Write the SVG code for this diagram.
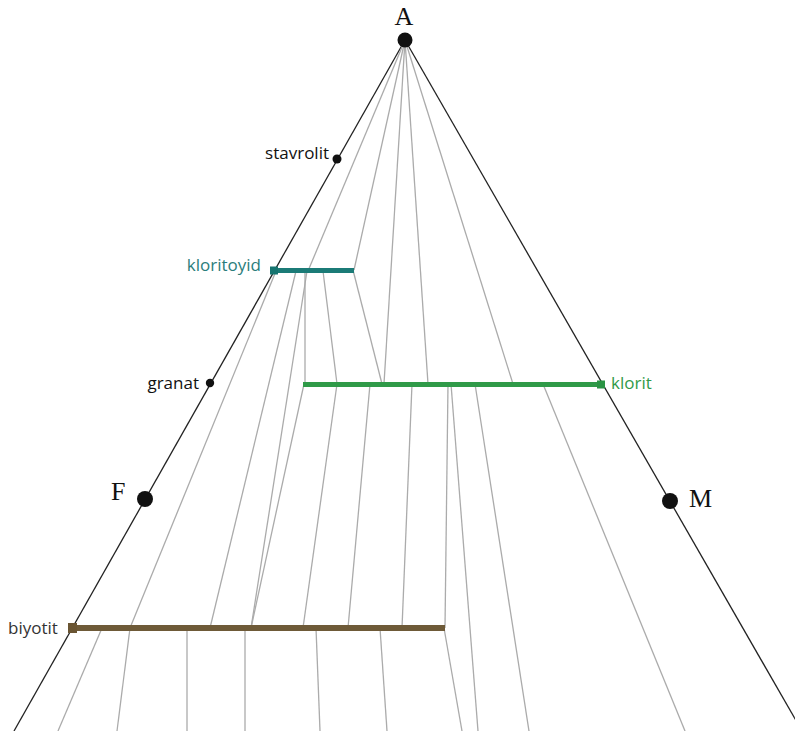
<svg xmlns="http://www.w3.org/2000/svg" width="795" height="731" viewBox="0 0 795 731">
<style>
.edge{stroke:#222;stroke-width:1.3;fill:none}
.tie{stroke:#ababab;stroke-width:1.3;fill:none}
.lbl{font-family:"Open Sans","Liberation Sans",sans-serif;font-size:17px}
.big{font-family:"Liberation Serif","Times New Roman",serif;font-size:26px;fill:#111}
.dot{fill:#111}
</style>
<rect width="795" height="731" fill="#fff"/>
<g id="connectors">
<line class="edge" x1="405" y1="40" x2="14" y2="731"/>
<line class="edge" x1="405" y1="40" x2="802" y2="731"/>
<line class="tie" x1="405" y1="40" x2="308" y2="271"/>
<line class="tie" x1="405" y1="40" x2="354" y2="270"/>
<line class="tie" x1="405" y1="40" x2="384" y2="384"/>
<line class="tie" x1="405" y1="40" x2="428" y2="384"/>
<line class="tie" x1="405" y1="40" x2="513" y2="384"/>
<line class="tie" x1="276" y1="271" x2="130" y2="628"/>
<line class="tie" x1="296" y1="271" x2="210" y2="628"/>
<line class="tie" x1="307" y1="271" x2="251" y2="628"/>
<line class="tie" x1="305" y1="271" x2="305" y2="384"/>
<line class="tie" x1="323" y1="271" x2="337" y2="384"/>
<line class="tie" x1="353" y1="270" x2="382" y2="384"/>
<line class="tie" x1="304" y1="384" x2="251" y2="628"/>
<line class="tie" x1="337" y1="384" x2="303" y2="628"/>
<line class="tie" x1="370" y1="384" x2="348" y2="628"/>
<line class="tie" x1="412" y1="384" x2="402" y2="628"/>
<line class="tie" x1="448" y1="384" x2="445" y2="628"/>
<line class="tie" x1="451" y1="384" x2="478" y2="731"/>
<line class="tie" x1="475" y1="384" x2="529" y2="731"/>
<line class="tie" x1="543" y1="384" x2="685" y2="731"/>
<line class="tie" x1="102" y1="628" x2="58" y2="731"/>
<line class="tie" x1="130" y1="628" x2="117" y2="731"/>
<line class="tie" x1="187" y1="628" x2="187" y2="731"/>
<line class="tie" x1="245" y1="628" x2="245" y2="731"/>
<line class="tie" x1="316" y1="628" x2="320" y2="731"/>
<line class="tie" x1="380" y1="628" x2="387" y2="731"/>
<line class="tie" x1="444" y1="628" x2="462" y2="731"/>
</g>
<g id="A">
<circle class="dot" cx="405" cy="40" r="7.5"/>
<text class="big" x="404" y="25" text-anchor="middle">A</text>
</g>
<g id="F">
<circle class="dot" cx="145" cy="499" r="8"/>
<text class="big" x="111" y="500">F</text>
</g>
<g id="M">
<circle class="dot" cx="670" cy="501" r="8"/>
<text class="big" x="689" y="507">M</text>
</g>
<g id="stavrolit">
<circle class="dot" cx="337" cy="159" r="4.5"/>
<text class="lbl" x="329" y="159" text-anchor="end" fill="#111">stavrolit</text>
</g>
<g id="granat">
<circle class="dot" cx="210" cy="383" r="4.2"/>
<text class="lbl" x="199" y="389" text-anchor="end" fill="#111">granat</text>
</g>
<g id="kloritoyid">
<line x1="276" y1="270.5" x2="354" y2="270.5" stroke="#1b7b77" stroke-width="5"/>
<rect x="270" y="266.5" width="8" height="8" fill="#167570"/>
<text class="lbl" x="261" y="271" text-anchor="end" fill="#2a7d7b">kloritoyid</text>
</g>
<g id="klorit">
<line x1="303" y1="384.5" x2="600" y2="384.5" stroke="#2f9a48" stroke-width="5"/>
<rect x="597" y="380.5" width="8" height="8" fill="#2a9444"/>
<text class="lbl" x="611" y="389" fill="#2f9a48">klorit</text>
</g>
<g id="biyotit">
<line x1="74" y1="628" x2="445" y2="628" stroke="#6e5a38" stroke-width="6"/>
<rect x="68" y="623" width="9" height="10" fill="#6a5533"/>
<text class="lbl" x="8" y="634" fill="#333">biyotit</text>
</g>
</svg>
